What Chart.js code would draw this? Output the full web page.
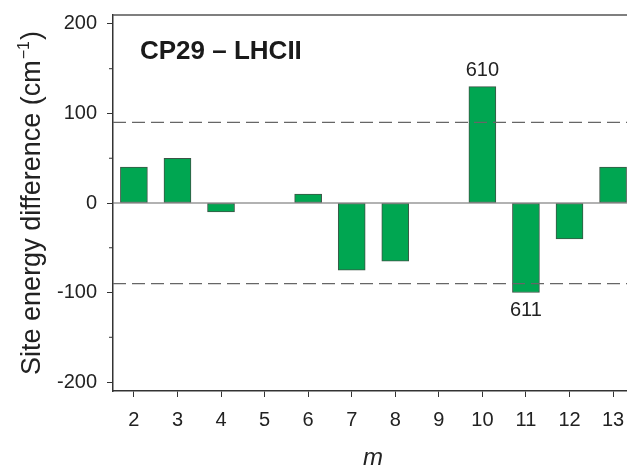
<!DOCTYPE html>
<html>
<head>
<meta charset="utf-8">
<script src="https://cdn.jsdelivr.net/npm/chart.js@4"></script>
<style>
  html, body { margin: 0; padding: 0; background: #fff; }
  #wrap { width: 627px; height: 468px; position: relative; }
</style>
</head>
<body>
<div id="wrap"><canvas id="siteChart"></canvas></div>
<script>
// pigment index m and site energy difference (cm^-1)
const mValues = [2, 3, 4, 5, 6, 7, 8, 9, 10, 11, 12, 13];
const energyDiff = [40, 50, -10, 0, 10, -75, -65, 0, 130, -100, -40, 40];

const xTicks = [2, 3, 4, 5, 6, 7, 8, 9, 10, 11, 12, 13];
const yTicks = [-200, -100, 0, 100, 200];
const yMinorTicks = [-150, -50, 50, 150];
const thresholds = [90, -90];

// labelled bars
const barNotes = [
    { m: 10, text: '610', above: true },
    { m: 11, text: '611', above: false }
];

const FONT = 'Arial, "Liberation Sans", sans-serif';

const extras = {
    id: 'extras',
    afterDatasetsDraw(chart) {
        const { ctx, chartArea: a, scales: { x, y } } = chart;
        ctx.save();

        // top frame line
        ctx.strokeStyle = '#555';
        ctx.lineWidth = 1.5;
        ctx.beginPath();
        ctx.moveTo(a.left, a.top);
        ctx.lineTo(a.right, a.top);
        ctx.stroke();

        // zero line
        ctx.strokeStyle = '#666';
        ctx.lineWidth = 1.2;
        const y0 = y.getPixelForValue(0);
        ctx.beginPath();
        ctx.moveTo(a.left, y0);
        ctx.lineTo(a.right, y0);
        ctx.stroke();

        // dashed threshold lines
        ctx.setLineDash([13, 6]);
        thresholds.forEach(t => {
            const py = y.getPixelForValue(t);
            ctx.beginPath();
            ctx.moveTo(a.left, py);
            ctx.lineTo(a.right, py);
            ctx.stroke();
        });
        ctx.setLineDash([]);

        // minor y ticks
        ctx.strokeStyle = '#333';
        ctx.lineWidth = 1;
        yMinorTicks.forEach(v => {
            const py = y.getPixelForValue(v);
            ctx.beginPath();
            ctx.moveTo(a.left - 4, py);
            ctx.lineTo(a.left, py);
            ctx.stroke();
        });

        // bar notes
        ctx.fillStyle = '#222';
        ctx.font = '20px ' + FONT;
        ctx.textAlign = 'center';
        barNotes.forEach(n => {
            const v = energyDiff[mValues.indexOf(n.m)];
            const px = x.getPixelForValue(n.m);
            const py = y.getPixelForValue(v);
            if (n.above) {
                ctx.textBaseline = 'bottom';
                ctx.fillText(n.text, px, py - 6);
            } else {
                ctx.textBaseline = 'top';
                ctx.fillText(n.text, px, py + 8);
            }
        });

        // panel title
        ctx.fillStyle = '#1a1a1a';
        ctx.font = 'bold 26px ' + FONT;
        ctx.textAlign = 'left';
        ctx.textBaseline = 'alphabetic';
        ctx.fillText('CP29 \u2013 LHCII', 140, 59);

        // x axis title
        ctx.font = 'italic 24px ' + FONT;
        ctx.textAlign = 'center';
        ctx.fillStyle = '#222';
        ctx.fillText('m', (a.left + a.right) / 2 + 3, 465);

        // y axis title with superscript
        const main = 'Site energy difference (cm';
        const sup = '\u22121';
        const tail = ')';
        ctx.translate(40, (a.top + a.bottom) / 2);
        ctx.rotate(-Math.PI / 2);
        ctx.font = '27px ' + FONT;
        const w1 = ctx.measureText(main).width;
        const w3 = ctx.measureText(tail).width;
        ctx.font = '16px ' + FONT;
        const w2 = ctx.measureText(sup).width;
        let sx = -(w1 + w2 + w3 + 2) / 2;
        ctx.textAlign = 'left';
        ctx.font = '27px ' + FONT;
        ctx.fillText(main, sx, 0);
        sx += w1 + 1;
        ctx.font = '16px ' + FONT;
        ctx.fillText(sup, sx, -11);
        sx += w2 + 1;
        ctx.font = '27px ' + FONT;
        ctx.fillText(tail, sx, 0);

        ctx.restore();
    }
};

new Chart(document.getElementById('siteChart'), {
    type: 'bar',
    data: {
        datasets: [{
            data: mValues.map((m, i) => ({ x: m, y: energyDiff[i] })),
            backgroundColor: '#00a651',
            borderColor: '#3d5446',
            borderWidth: 1,
            borderSkipped: false,
            barThickness: 27
        }]
    },
    options: {
        responsive: true,
        maintainAspectRatio: false,
        animation: false,
        devicePixelRatio: 1,
        layout: { padding: { top: 15, right: 0, left: 0, bottom: 0 } },
        plugins: {
            legend: { display: false },
            tooltip: { enabled: false }
        },
        scales: {
            x: {
                type: 'linear',
                offset: false,
                min: 1.52,
                max: 13.32,
                afterBuildTicks: s => { s.ticks = xTicks.map(v => ({ value: v })); },
                afterFit: s => { s.height = 77; s.paddingLeft = 0; s.paddingRight = 0; },
                grid: { offset: false, drawOnChartArea: false, tickLength: 6, tickColor: '#333' },
                border: { color: '#333', width: 1.5 },
                ticks: {
                    color: '#222',
                    font: { family: FONT, size: 20 },
                    padding: 11,
                    maxRotation: 0
                }
            },
            y: {
                min: -210,
                max: 210,
                afterBuildTicks: s => { s.ticks = yTicks.map(v => ({ value: v })); },
                afterFit: s => { s.width = 113; s.paddingTop = 0; s.paddingBottom = 0; },
                grid: { drawOnChartArea: false, tickLength: 6, tickColor: '#333' },
                border: { color: '#333', width: 1.5 },
                ticks: {
                    color: '#222',
                    font: { family: FONT, size: 20 },
                    padding: 10
                }
            }
        }
    },
    plugins: [extras]
});
</script>
</body>
</html>
